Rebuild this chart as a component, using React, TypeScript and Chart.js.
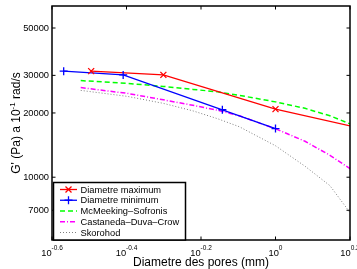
import React, { useEffect, useRef } from 'react';
import { Chart, registerables } from 'chart.js';
Chart.register(...registerables);

// ---- data ----
const seriesLabels = ['Diametre maximum', 'Diametre minimum', 'McMeeking\u2013Sofronis', 'Castaneda\u2013Duva\u2013Crow', 'Skorohod'];
const maxDiam = [0.32, 0.5, 1.0, 1.6];
const maxG = [31400, 30150, 20840, 17340];
const minDiam = [0.27, 0.39, 0.72, 1.0];
const minG = [31400, 30150, 20700, 16900];
const modelDiam = [0.3, 0.4, 0.5, 0.6, 0.7, 0.8, 1.0, 1.2, 1.4, 1.585];
const mcmG = [28360, 27510, 26640, 25790, 25110, 24180, 22540, 21020, 19390, 17790];
const cdcG = [26300, 24710, 23040, 21720, 20580, 19390, 16860, 14740, 12670, 10960];
const skoG = [25510, 23920, 22180, 20460, 18780, 17230, 14040, 11260, 9130, 6830];
const yTicks = [7000, 10000, 20000, 30000, 50000];
const xTickExps = ['-0.6', '-0.4', '-0.2', '0', '0.2'];
const xTitle = 'Diametre des pores (mm)';
const yTitleParts = ["G' (Pa) a 10", '-1', ' rad/s'];

const colors = ['#ff0000', '#0000ff', '#00ff00', '#ff00ff', '#7f7f7f'];
const dashes: number[][] = [[], [], [5, 3], [5, 2, 1, 2], [1, 2]];
const widths = [1.3, 1.3, 1.5, 1.5, 1];
const FONT = '"Liberation Sans", Arial, Helvetica, sans-serif';

const zip = (xs: number[], ys: number[]) => xs.map((x, i) => ({ x, y: ys[i] }));

function drawMarker(ctx: CanvasRenderingContext2D, kind: number, x: number, y: number, color: string) {
  ctx.save();
  ctx.strokeStyle = color;
  ctx.lineWidth = 1.3;
  ctx.setLineDash([]);
  ctx.beginPath();
  if (kind === 0) {
    const r = 3;
    ctx.moveTo(x - r, y - r); ctx.lineTo(x + r, y + r);
    ctx.moveTo(x - r, y + r); ctx.lineTo(x + r, y - r);
  } else {
    const r = 4;
    ctx.moveTo(x - r, y); ctx.lineTo(x + r, y);
    ctx.moveTo(x, y - r); ctx.lineTo(x, y + r);
  }
  ctx.stroke();
  ctx.restore();
}

const overlay = {
  id: 'overlay',
  afterDatasetsDraw(chart: any) {
    const { ctx, chartArea: a, scales } = chart;
    const xs = scales.x, ys = scales.y;
    ctx.save();
    ctx.setLineDash([]);
    // markers for measured series
    const meas = [zip(maxDiam, maxG), zip(minDiam, minG)];
    ctx.save();
    ctx.beginPath();
    ctx.rect(a.left - 1, a.top - 1, a.right - a.left + 2, a.bottom - a.top + 2);
    ctx.clip();
    meas.forEach((pts, k) => pts.forEach(p => {
      const px = xs.getPixelForValue(p.x);
      if (px > a.right) return;
      drawMarker(ctx, k, px, ys.getPixelForValue(p.y), colors[k]);
    }));
    ctx.restore();

    // axis box
    ctx.strokeStyle = '#000';
    ctx.lineWidth = 1.5;
    ctx.strokeRect(a.left, a.top, a.right - a.left, a.bottom - a.top);
    ctx.lineWidth = 1;
    const tl = 3.5;
    yTicks.forEach(v => {
      const y = ys.getPixelForValue(v);
      ctx.beginPath();
      ctx.moveTo(a.left, y); ctx.lineTo(a.left + tl, y);
      ctx.moveTo(a.right - tl, y); ctx.lineTo(a.right, y);
      ctx.stroke();
    });
    xTickExps.forEach(e => {
      const x = xs.getPixelForValue(Math.pow(10, parseFloat(e)));
      ctx.beginPath();
      ctx.moveTo(x, a.bottom); ctx.lineTo(x, a.bottom - tl);
      ctx.moveTo(x, a.top); ctx.lineTo(x, a.top + tl);
      ctx.stroke();
    });

    // y tick labels
    ctx.fillStyle = '#000';
    ctx.font = `9.3px ${FONT}`;
    ctx.textAlign = 'right';
    ctx.textBaseline = 'middle';
    yTicks.forEach(v => {
      ctx.fillText(String(v), a.left - 3, ys.getPixelForValue(v));
    });
    // x tick labels
    ctx.textAlign = 'left';
    ctx.textBaseline = 'alphabetic';
    xTickExps.forEach(e => {
      const x = xs.getPixelForValue(Math.pow(10, parseFloat(e)));
      ctx.font = `9.3px ${FONT}`;
      const w1 = ctx.measureText('10').width;
      ctx.font = `6.5px ${FONT}`;
      const w2 = ctx.measureText(e).width;
      const x0 = x - (w1 + w2) / 2;
      ctx.font = `9.3px ${FONT}`;
      ctx.fillText('10', x0, 256);
      ctx.font = `6.5px ${FONT}`;
      ctx.fillText(e, x0 + w1, 249.5);
    });
    // x title
    ctx.font = `12px ${FONT}`;
    ctx.textAlign = 'center';
    ctx.fillText(xTitle, (a.left + a.right) / 2, 266);
    // y title
    ctx.save();
    ctx.translate(20, 123);
    ctx.rotate(-Math.PI / 2);
    ctx.textAlign = 'left';
    ctx.font = `12px ${FONT}`;
    const p0 = ctx.measureText(yTitleParts[0]).width;
    const p2 = ctx.measureText(yTitleParts[2]).width;
    ctx.font = `8px ${FONT}`;
    const p1 = ctx.measureText(yTitleParts[1]).width;
    let sx = -(p0 + p1 + p2) / 2;
    ctx.font = `12px ${FONT}`;
    ctx.fillText(yTitleParts[0], sx, 0);
    ctx.font = `8px ${FONT}`;
    ctx.fillText(yTitleParts[1], sx + p0, -5);
    ctx.font = `12px ${FONT}`;
    ctx.fillText(yTitleParts[2], sx + p0 + p1, 0);
    ctx.restore();

    // legend
    const lx = 53.5, ly = 182.5, lw = 132, lh = 57.5;
    ctx.fillStyle = '#fff';
    ctx.fillRect(lx, ly, lw, lh);
    ctx.strokeStyle = '#000';
    ctx.lineWidth = 1.5;
    ctx.strokeRect(lx, ly, lw, lh);
    ctx.font = `9.3px ${FONT}`;
    ctx.textAlign = 'left';
    ctx.textBaseline = 'middle';
    seriesLabels.forEach((lab, i) => {
      const y = 189.5 + i * 10.75;
      ctx.strokeStyle = colors[i];
      ctx.lineWidth = widths[i];
      ctx.setLineDash(dashes[i]);
      ctx.beginPath();
      ctx.moveTo(60, y); ctx.lineTo(77, y);
      ctx.stroke();
      ctx.setLineDash([]);
      if (i < 2) drawMarker(ctx, i, 68.5, y, colors[i]);
      ctx.fillStyle = '#000';
      ctx.fillText(lab, 80.5, y + 0.5);
    });
    ctx.restore();
  },
};

export default function App() {
  const ref = useRef<HTMLCanvasElement>(null);
  useEffect(() => {
    if (!ref.current) return;
    const series = [zip(maxDiam, maxG), zip(minDiam, minG), zip(modelDiam, mcmG), zip(modelDiam, cdcG), zip(modelDiam, skoG)];
    const chart = new Chart(ref.current, {
      type: 'line',
      data: {
        datasets: series.map((d, i) => ({
          label: seriesLabels[i],
          data: d,
          borderColor: colors[i],
          backgroundColor: colors[i],
          borderWidth: widths[i],
          borderDash: dashes[i],
          pointRadius: 0,
          fill: false,
          tension: 0,
        })),
      },
      options: {
        animation: false,
        responsive: false,
        devicePixelRatio: 1,
        layout: { padding: { left: 52, right: 7, top: 6, bottom: 29 } },
        plugins: { legend: { display: false }, tooltip: { enabled: false } },
        scales: {
          x: { type: 'logarithmic', min: Math.pow(10, -0.6), max: Math.pow(10, 0.2), display: false },
          y: { type: 'logarithmic', min: 5080, max: 63400, display: false },
        },
      },
      plugins: [overlay],
    });
    return () => chart.destroy();
  }, []);
  return (
    <div style={{ position: 'fixed', left: 0, top: 0, width: 357, height: 269, background: '#fff' }}>
      <canvas ref={ref} width={357} height={269} style={{ display: 'block' }} />
    </div>
  );
}
